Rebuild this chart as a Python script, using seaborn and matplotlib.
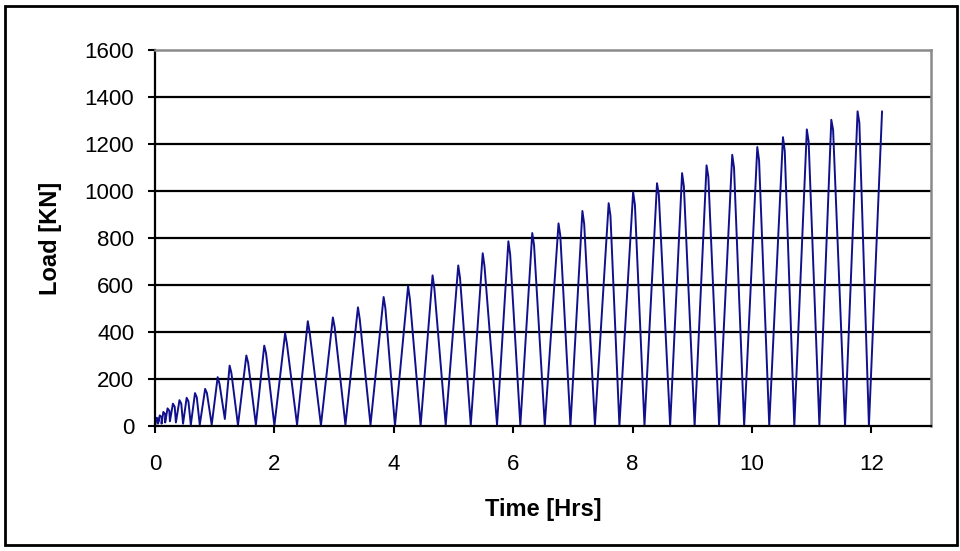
import numpy as np
import pandas as pd
import matplotlib
matplotlib.use("Agg")
import matplotlib.pyplot as plt
import seaborn as sns
from matplotlib.patches import Rectangle

# ---- data ----
valley_t = [0.00, 0.05, 0.11, 0.17, 0.25, 0.35, 0.47, 0.60, 0.75, 0.95, 1.17, 1.39,
            1.69, 2.00, 2.38, 2.78, 3.19, 3.61, 4.02, 4.45, 4.87, 5.29, 5.73, 6.12,
            6.53, 6.96, 7.37, 7.78, 8.20, 8.63, 9.04, 9.45, 9.87, 10.29, 10.71, 11.13,
            11.56, 11.96]
valley_load = [0, 10, 10, 15, 20, 15, 10, 5, 5, 5, 30, 3,
               5, 2, 5, 3, 5, 5, 2, 2, 5, 5, 5, 3,
               2, 2, 3, 2, 3, 2, 1, 2, 1, 3, 1, 2,
               1, 2]
peak_t = [0.03, 0.08, 0.14, 0.21, 0.30, 0.41, 0.53, 0.67, 0.84, 1.05, 1.25, 1.53,
          1.83, 2.18, 2.56, 2.98, 3.40, 3.83, 4.24, 4.65, 5.08, 5.49, 5.92, 6.32,
          6.76, 7.16, 7.60, 8.01, 8.41, 8.83, 9.24, 9.67, 10.09, 10.52, 10.92, 11.33,
          11.77, 12.18]
peak_load = [35, 45, 60, 75, 95, 110, 120, 140, 158, 208, 257, 300,
             342, 395, 446, 462, 505, 549, 595, 641, 683, 735, 786, 821,
             862, 915, 948, 996, 1033, 1076, 1109, 1154, 1187, 1229, 1262, 1303,
             1339, 1339]
shoulder_load = [28, 38, 50, 65, 82, 95, 105, 122, 140, 180, 225, 270,
                 310, 350, 400, 420, 455, 500, 540, 585, 630, 680, 730, 770,
                 810, 860, 895, 940, 985, 1020, 1060, 1100, 1130, 1170, 1210, 1260,
                 1290]

x_ticks = [0, 2, 4, 6, 8, 10, 12]
y_ticks = [0, 200, 400, 600, 800, 1000, 1200, 1400, 1600]

# ---- build the polyline (valley -> peak -> shoulder -> next valley) ----
ts, ls = [], []
for i in range(len(peak_t)):
    ts.append(valley_t[i]); ls.append(valley_load[i])
    ts.append(peak_t[i]); ls.append(peak_load[i])
    if i < len(shoulder_load):
        ts.append(peak_t[i] + 0.03); ls.append(shoulder_load[i])
df = pd.DataFrame({"Time": ts, "Load": ls})

sns.set_theme(style="white")
plt.rcParams['font.family'] = ['Liberation Sans', 'DejaVu Sans']
plt.rcParams['text.color'] = 'black'
plt.rcParams['axes.labelcolor'] = 'black'
plt.rcParams['xtick.color'] = 'black'
plt.rcParams['ytick.color'] = 'black'

fig = plt.figure(figsize=(9.6, 5.51), dpi=100)
ax = fig.add_axes([155/960, 1 - 426/551, (931 - 155)/960, (426 - 50)/551])

sns.lineplot(data=df, x="Time", y="Load", sort=False, estimator=None,
             color="#10108c", linewidth=1.4, ax=ax)

ax.set_xlim(0, 13)
ax.set_ylim(0, 1600)
ax.set_xticks(x_ticks)
ax.set_yticks(y_ticks)
ax.set_xticklabels([str(v) for v in x_ticks], fontsize=16)
ax.set_yticklabels([str(v) for v in y_ticks], fontsize=16)
for y in y_ticks[1:-1]:
    ax.axhline(y, color="black", linewidth=1.6, zorder=0)

ax.set_xlabel("Time [Hrs]", fontsize=17, fontweight="bold", labelpad=17)
ax.set_ylabel("Load [KN]", fontsize=17, fontweight="bold", labelpad=16)

ax.tick_params(axis="both", direction="out", length=5, width=1.5,
               bottom=True, left=True)
ax.tick_params(axis="x", pad=15)
ax.tick_params(axis="y", pad=10)
for s in ["left", "bottom"]:
    ax.spines[s].set_color("black")
    ax.spines[s].set_linewidth(1.6)
for s in ["top", "right"]:
    ax.spines[s].set_color("#8a8a8a")
    ax.spines[s].set_linewidth(1.8)
ax.grid(False)

fig.patches.append(Rectangle((5/960, 1 - 545/551), 952/960, 539/551,
                             transform=fig.transFigure, fill=False,
                             edgecolor="black", linewidth=2))

fig.savefig("out.png", dpi=100)
